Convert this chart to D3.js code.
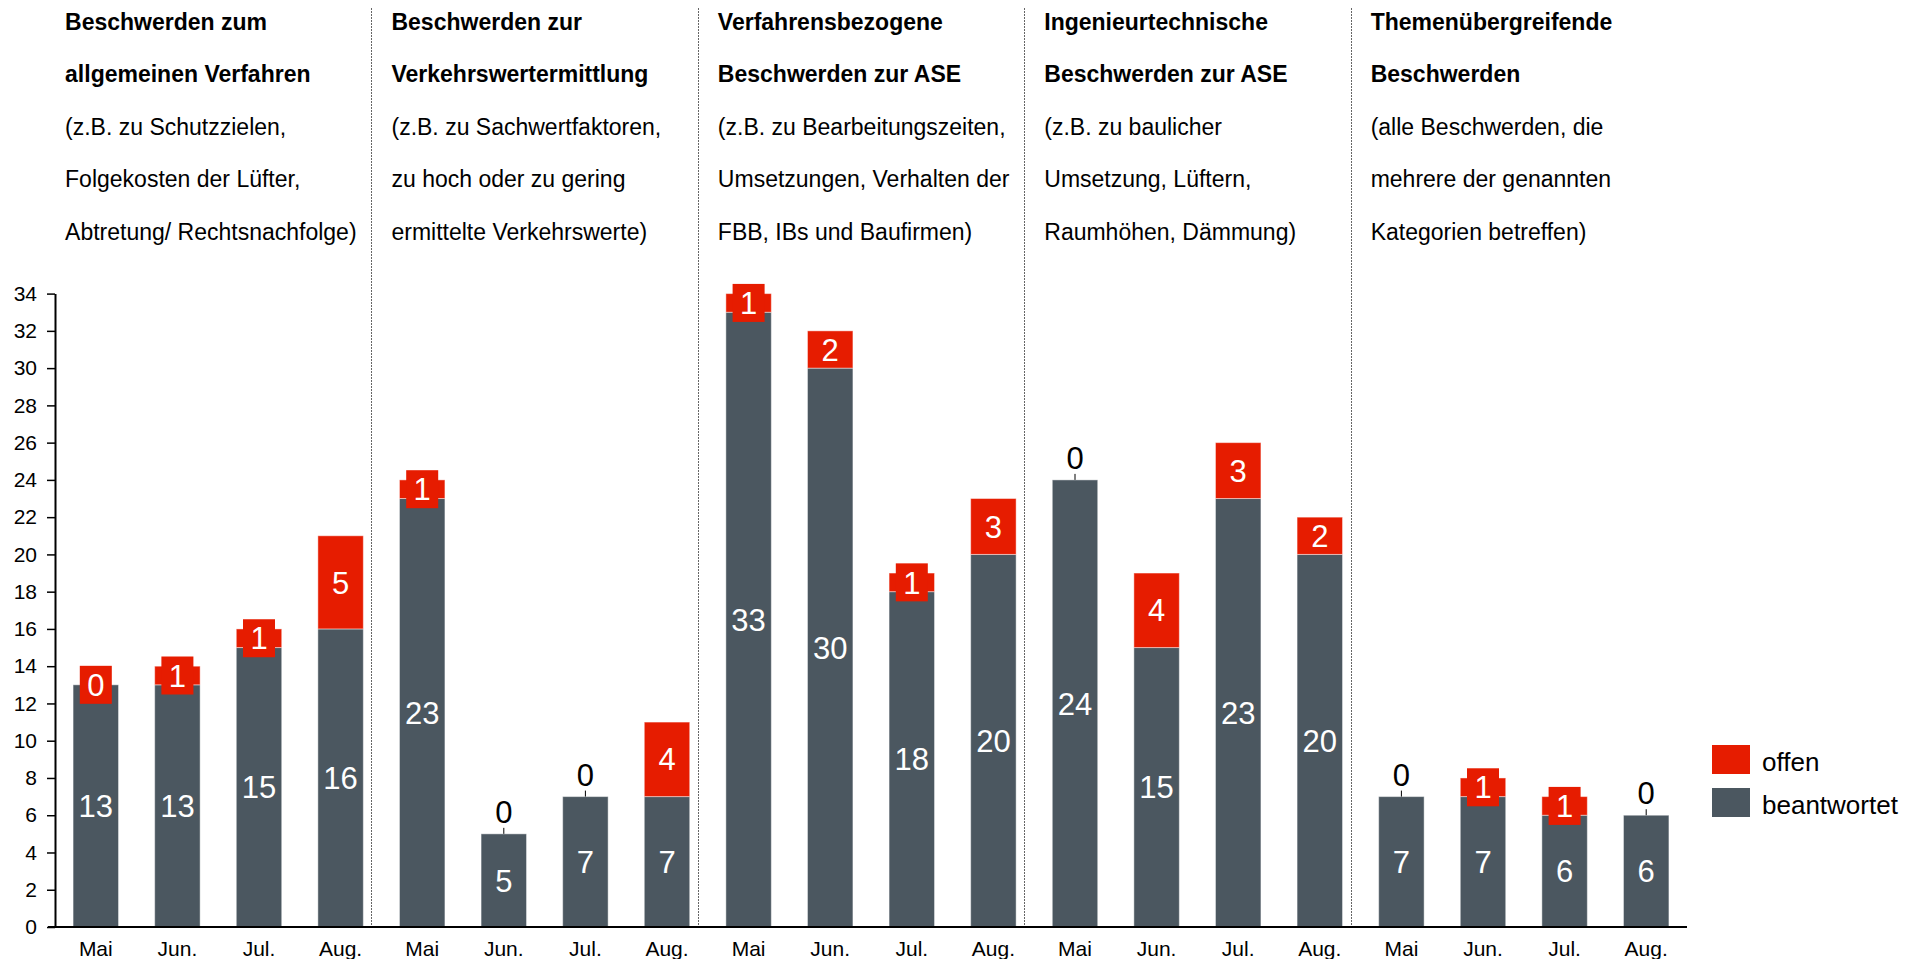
<!DOCTYPE html>
<html>
<head>
<meta charset="utf-8">
<script src="https://cdn.jsdelivr.net/npm/d3@7"></script>
<style>
  body { margin: 0; background: #fff; }
  svg text { font-family: Arial, "Liberation Sans", sans-serif; }
</style>
</head>
<body>
<div id="chart"></div>
<script>

// months shown under every group
var months = ["Mai", "Jun.", "Jul.", "Aug."];

// group headings (bold) and the explanation below them
var groupTitles = [
    ["Beschwerden zum", "allgemeinen Verfahren"],
    ["Beschwerden zur", "Verkehrswertermittlung"],
    ["Verfahrensbezogene", "Beschwerden zur ASE"],
    ["Ingenieurtechnische", "Beschwerden zur ASE"],
    ["Themenübergreifende", "Beschwerden"]
];
var groupNotes = [
    ["(z.B. zu Schutzzielen,", "Folgekosten der Lüfter,", "Abtretung/ Rechtsnachfolge)"],
    ["(z.B. zu Sachwertfaktoren,", "zu hoch oder zu gering", "ermittelte Verkehrswerte)"],
    ["(z.B. zu Bearbeitungszeiten,", "Umsetzungen, Verhalten der", "FBB, IBs und Baufirmen)"],
    ["(z.B. zu baulicher", "Umsetzung, Lüftern,", "Raumhöhen, Dämmung)"],
    ["(alle Beschwerden, die", "mehrere der genannten", "Kategorien betreffen)"]
];

// values per group, one entry per month
var beantwortet = [
    [13, 13, 15, 16],
    [23, 5, 7, 7],
    [33, 30, 18, 20],
    [24, 15, 23, 20],
    [7, 7, 6, 6]
];
var offen = [
    [0, 1, 1, 5],
    [1, 0, 0, 4],
    [1, 2, 1, 3],
    [0, 4, 3, 2],
    [0, 1, 1, 0]
];

// the one zero that is shown in a red box instead of above the bar
var boxedZeros = ["0-0"];

var yTicks = d3.range(0, 35, 2);
var legendItems = [
    {name: "offen", color: "#e61c00"},
    {name: "beantwortet", color: "#4b5760"}
];

var colOffen = "#e61c00",
    colDone = "#4b5760";

// flat table for the bars
var rows = [];
beantwortet.forEach(function(g, gi){
    g.forEach(function(v, mi){
        rows.push({key: gi + "-" + mi, group: gi, month: months[mi], done: v, open: offen[gi][mi]});
    });
});

var width = 1921, height = 959;

var svg = d3.select("#chart")
  .append("svg")
    .attr("width", width)
    .attr("height", height);

// scales
var x = d3.scaleBand()
    .domain(rows.map(function(d){ return d.key; }))
    .range([55, 1687])
    .paddingInner(0.443)
    .paddingOuter(0.2215);

var y = d3.scaleLinear()
    .domain([0, 34])
    .range([927, 293.6]);

var bw = x.bandwidth();

// dotted separators between groups
for (var gi = 1; gi < groupTitles.length; gi++) {
    var xs = Math.round(x((gi - 1) + "-3") + bw + 8) + 0.5;
    svg.append("line")
        .attr("x1", xs).attr("x2", xs)
        .attr("y1", 8).attr("y2", y(0))
        .attr("stroke", "#666")
        .attr("stroke-width", 1)
        .attr("stroke-dasharray", "2,1");
}

// group headings
groupTitles.forEach(function(t, gi){
    var tx = x(gi + "-0") - 8;
    var lines = t.map(function(s){ return {s: s, bold: true}; })
        .concat(groupNotes[gi].map(function(s){ return {s: s, bold: false}; }));
    svg.selectAll(null)
        .data(lines)
        .enter()
        .append("text")
          .attr("x", tx)
          .attr("y", function(d, i){ return 29.5 + i * 52.6; })
          .style("font-size", "23px")
          .style("font-weight", function(d){ return d.bold ? "bold" : "normal"; })
          .attr("fill", "#000")
          .text(function(d){ return d.s; });
});

// y axis
var yAxis = svg.append("g")
    .attr("transform", "translate(55,0)")
    .call(d3.axisLeft(y).tickValues(yTicks).tickSize(8).tickPadding(10).tickSizeOuter(0));
yAxis.select(".domain").attr("stroke", "#000").attr("stroke-width", 2);
yAxis.selectAll(".tick line").attr("stroke", "#000").attr("stroke-width", 1.5);
yAxis.selectAll("text")
    .style("font-family", "Arial, 'Liberation Sans', sans-serif")
    .style("font-size", "21px")
    .attr("fill", "#000");

// beantwortet bars
svg.selectAll("doneBars")
    .data(rows)
    .enter()
    .append("rect")
      .attr("x", function(d){ return x(d.key); })
      .attr("y", function(d){ return y(d.done); })
      .attr("width", bw)
      .attr("height", function(d){ return y(0) - y(d.done); })
      .attr("fill", colDone)
      .attr("stroke", "#fff")
      .attr("stroke-opacity", 0.45)
      .attr("stroke-width", 1);

// offen bars stacked on top
svg.selectAll("openBars")
    .data(rows.filter(function(d){ return d.open > 0; }))
    .enter()
    .append("rect")
      .attr("x", function(d){ return x(d.key); })
      .attr("y", function(d){ return y(d.done + d.open); })
      .attr("width", bw)
      .attr("height", function(d){ return y(d.done) - y(d.done + d.open); })
      .attr("fill", colOffen)
      .attr("stroke", "#fff")
      .attr("stroke-opacity", 0.45)
      .attr("stroke-width", 1);

// x axis line
svg.append("line")
    .attr("x1", 48).attr("x2", 1687)
    .attr("y1", y(0)).attr("y2", y(0))
    .attr("stroke", "#000")
    .attr("stroke-width", 2);

// month labels
svg.selectAll("monthLabels")
    .data(rows)
    .enter()
    .append("text")
      .attr("x", function(d){ return x(d.key) + bw / 2; })
      .attr("y", 955.5)
      .attr("text-anchor", "middle")
      .style("font-size", "21px")
      .attr("fill", "#000")
      .text(function(d){ return d.month; });

// white labels inside beantwortet bars
svg.selectAll("doneLabels")
    .data(rows)
    .enter()
    .append("text")
      .attr("x", function(d){ return x(d.key) + bw / 2; })
      .attr("y", function(d){ return y(d.done / 2); })
      .attr("dy", "0.36em")
      .attr("text-anchor", "middle")
      .style("font-size", "31px")
      .attr("fill", "#fff")
      .text(function(d){ return d.done; });

// offen labels: boxed when the segment is too small, plain when big enough
var boxed = rows.filter(function(d){
    return d.open === 1 || (d.open === 0 && boxedZeros.indexOf(d.key) >= 0);
});
svg.selectAll("openBoxes")
    .data(boxed)
    .enter()
    .append("rect")
      .attr("x", function(d){ return x(d.key) + bw / 2 - 16; })
      .attr("y", function(d){ return y(d.done + d.open / 2) - 19; })
      .attr("width", 32)
      .attr("height", 38)
      .attr("fill", colOffen);

svg.selectAll("openLabels")
    .data(rows.filter(function(d){ return d.open > 0 || boxedZeros.indexOf(d.key) >= 0; }))
    .enter()
    .append("text")
      .attr("x", function(d){ return x(d.key) + bw / 2; })
      .attr("y", function(d){ return y(d.done + d.open / 2); })
      .attr("dy", "0.36em")
      .attr("text-anchor", "middle")
      .style("font-size", "31px")
      .attr("fill", "#fff")
      .text(function(d){ return d.open; });

// zeros above the bar with a short leader line
var zeros = rows.filter(function(d){ return d.open === 0 && boxedZeros.indexOf(d.key) < 0; });
svg.selectAll("zeroLines")
    .data(zeros)
    .enter()
    .append("line")
      .attr("x1", function(d){ return x(d.key) + bw / 2; })
      .attr("x2", function(d){ return x(d.key) + bw / 2; })
      .attr("y1", function(d){ return y(d.done); })
      .attr("y2", function(d){ return y(d.done) - 6; })
      .attr("stroke", "#000")
      .attr("stroke-width", 1);
svg.selectAll("zeroLabels")
    .data(zeros)
    .enter()
    .append("text")
      .attr("x", function(d){ return x(d.key) + bw / 2; })
      .attr("y", function(d){ return y(d.done) - 11; })
      .attr("text-anchor", "middle")
      .style("font-size", "31px")
      .attr("fill", "#000")
      .text("0");

// legend
var legend = svg.selectAll("legend")
    .data(legendItems)
    .enter()
    .append("g")
      .attr("transform", function(d, i){ return "translate(1712," + (745 + i * 43) + ")"; });
legend.append("rect")
    .attr("width", 38)
    .attr("height", 29)
    .attr("fill", function(d){ return d.color; });
legend.append("text")
    .attr("x", 50)
    .attr("y", 25.5)
    .style("font-size", "26px")
    .attr("fill", "#000")
    .text(function(d){ return d.name; });

</script>
</body>
</html>
